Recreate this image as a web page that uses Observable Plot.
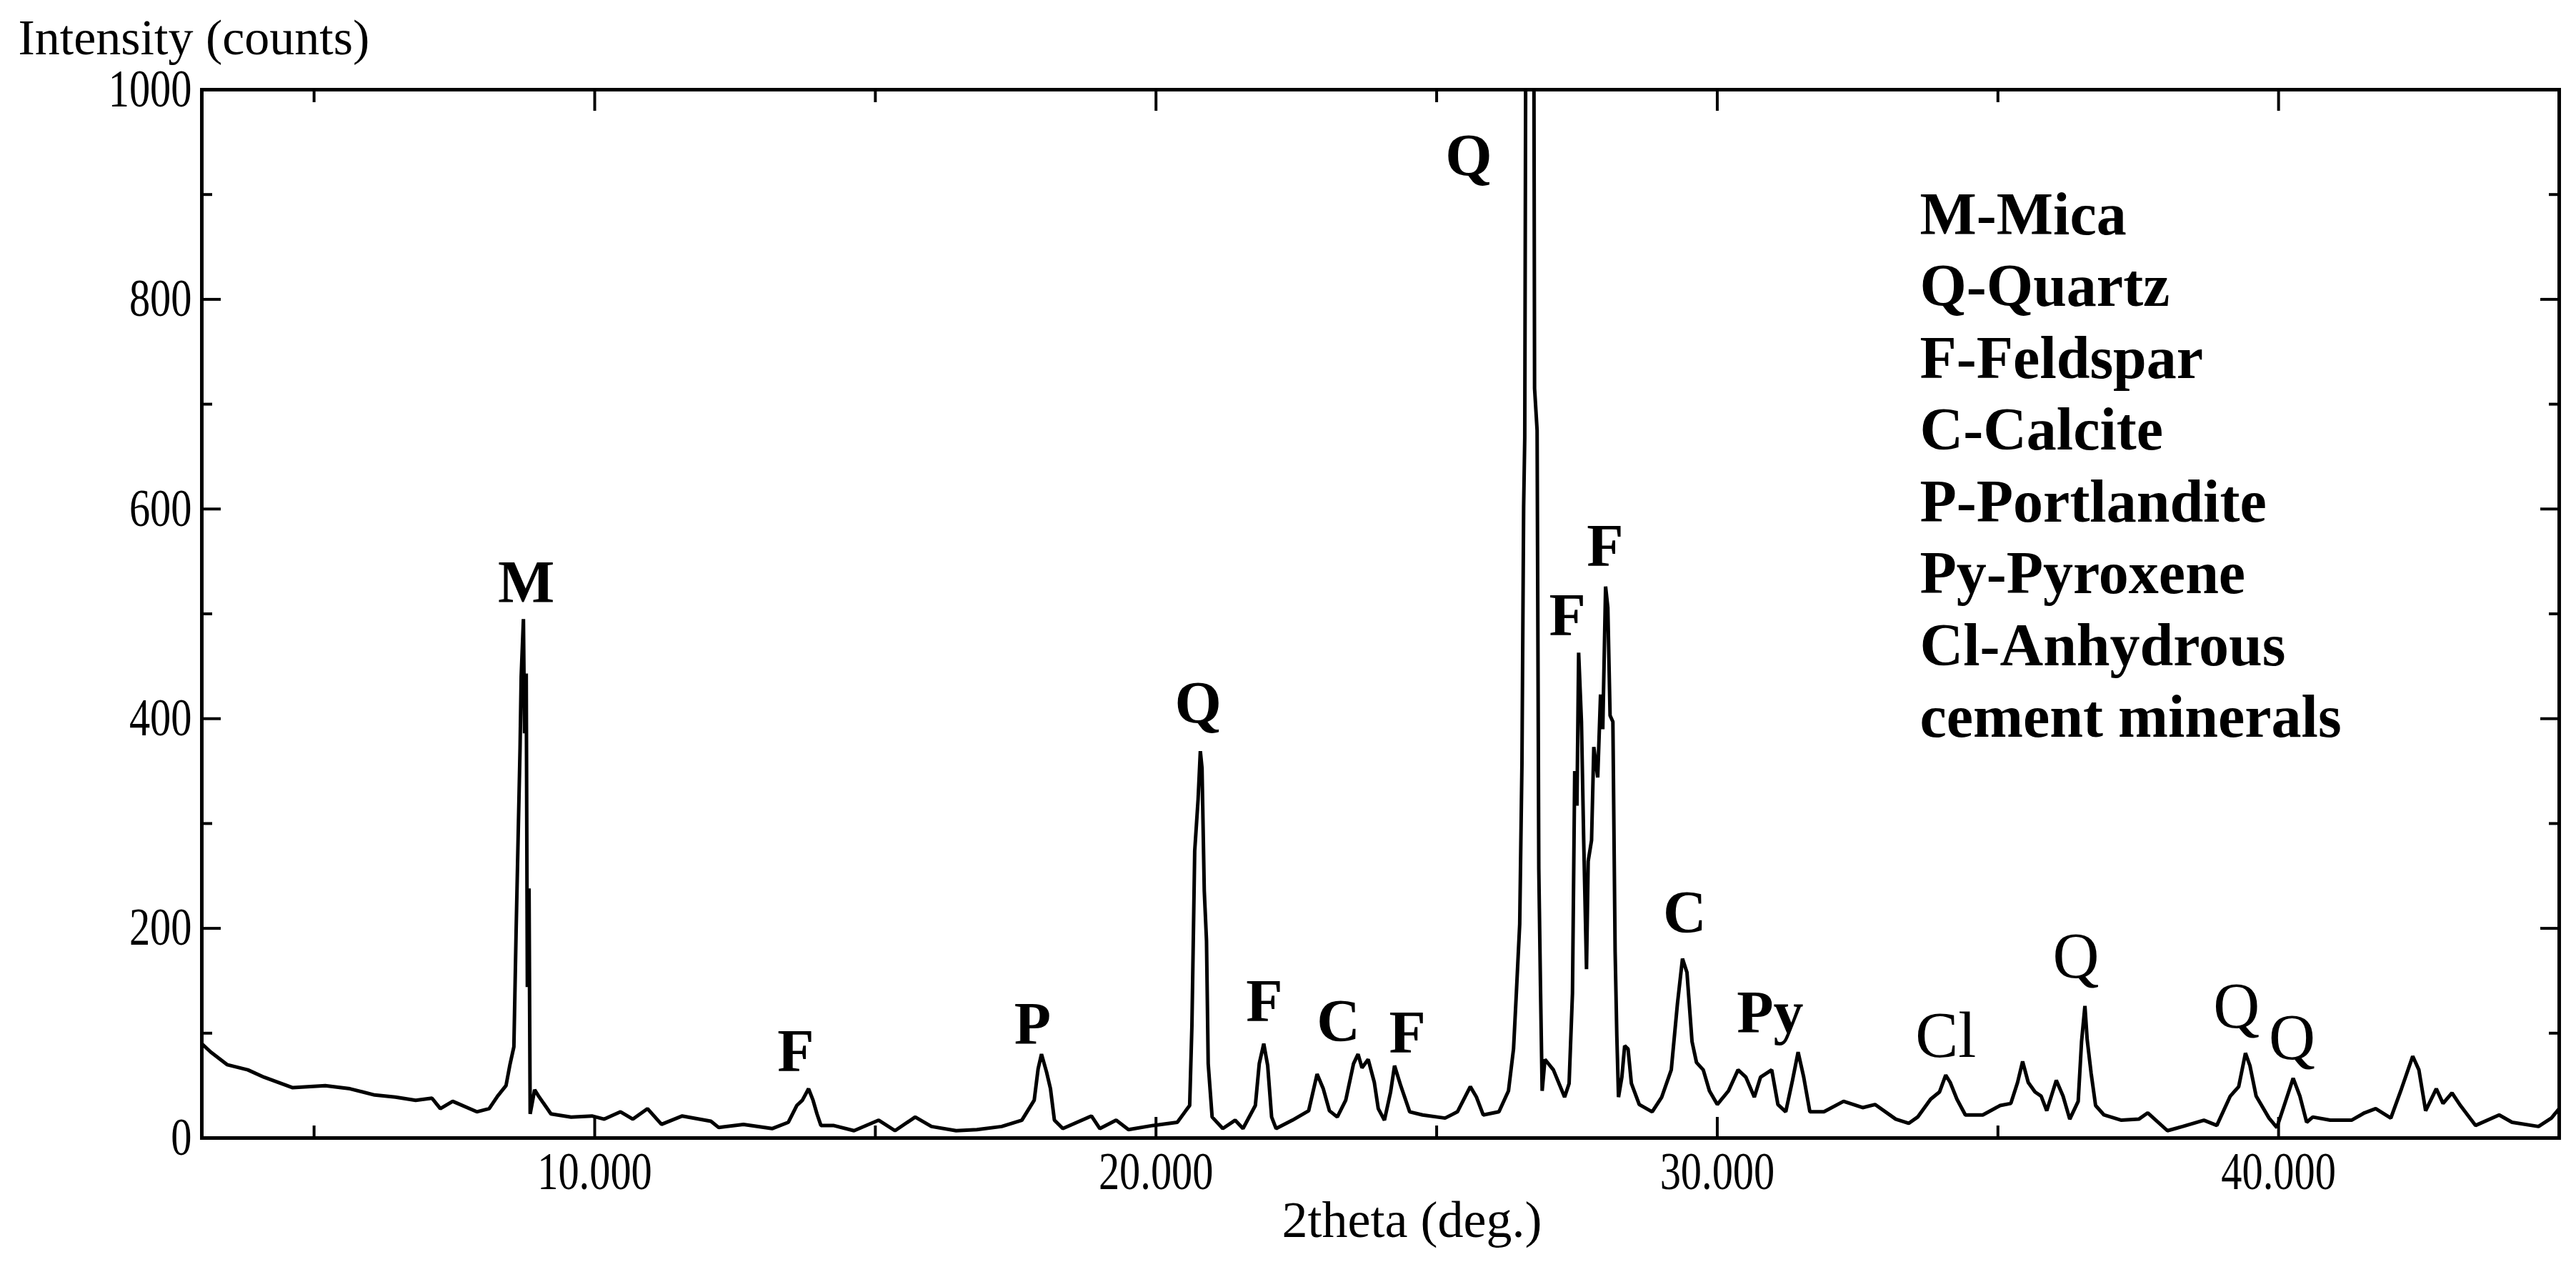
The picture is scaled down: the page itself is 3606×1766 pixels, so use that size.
<!DOCTYPE html>
<html>
<head>
<meta charset="utf-8">
<script src="https://cdn.jsdelivr.net/npm/d3@7"></script>
<script src="https://cdn.jsdelivr.net/npm/@observablehq/plot@0.6"></script>
<style>
  html, body { margin: 0; padding: 0; background: #fff; }
  #chart { position: relative; width: 3606px; height: 1766px; }
</style>
</head>
<body>
<div id="chart"></div>
<script>
// ---- data ----
const twoTheta = [
  3.0, 3.16, 3.45, 3.82, 4.11, 4.62, 5.2, 5.64, 6.08, 6.45, 6.81, 7.1, 7.25, 7.47, 7.9, 8.12, 8.27, 8.42, 8.49, 8.56,
  8.6, 8.67, 8.69, 8.73, 8.75, 8.78, 8.8, 8.83, 8.85, 8.93, 9.0, 9.22, 9.58, 9.95, 10.17, 10.46, 10.68, 10.94, 11.19, 11.56,
  12.07, 12.21, 12.65, 13.16, 13.45, 13.6, 13.7, 13.81, 13.89, 13.96, 14.03, 14.25, 14.62, 15.06, 15.35, 15.71, 16.0, 16.44, 16.81, 17.25,
  17.61, 17.83, 17.9, 17.96, 18.05, 18.12, 18.19, 18.34, 18.85, 19.0, 19.29, 19.51, 19.95, 20.38, 20.53, 20.6, 20.64, 20.69, 20.75, 20.79,
  20.82, 20.86, 20.9, 20.93, 21.0, 21.19, 21.41, 21.55, 21.77, 21.84, 21.92, 21.99, 22.06, 22.14, 22.43, 22.72, 22.87, 22.98, 23.09, 23.23,
  23.38, 23.52, 23.6, 23.67, 23.78, 23.89, 23.96, 24.07, 24.18, 24.25, 24.36, 24.52, 24.75, 25.15, 25.37, 25.6, 25.71, 25.83, 26.11, 26.28,
  26.37, 26.42, 26.48, 26.52, 26.55, 26.57, 26.59, 26.66, 26.73, 26.745, 26.79, 26.82, 26.85, 26.88, 26.93, 27.08, 27.28, 27.36, 27.42, 27.46,
  27.5, 27.53, 27.58, 27.62, 27.67, 27.7, 27.76, 27.8, 27.87, 27.92, 27.96, 28.01, 28.05, 28.09, 28.14, 28.18, 28.21, 28.24, 28.3, 28.35,
  28.41, 28.47, 28.61, 28.84, 29.01, 29.18, 29.29, 29.38, 29.46, 29.55, 29.63, 29.75, 29.86, 30.0, 30.2, 30.37, 30.51, 30.66, 30.77, 30.97,
  31.08, 31.22, 31.34, 31.44, 31.54, 31.65, 31.9, 32.25, 32.59, 32.81, 33.18, 33.41, 33.57, 33.8, 33.96, 34.07, 34.15, 34.27, 34.42, 34.73,
  35.04, 35.23, 35.35, 35.44, 35.54, 35.66, 35.77, 35.87, 36.04, 36.16, 36.28, 36.43, 36.49, 36.55, 36.59, 36.66, 36.74, 36.89, 37.2, 37.51,
  37.67, 38.02, 38.29, 38.67, 38.9, 39.14, 39.29, 39.41, 39.49, 39.6, 39.83, 39.97, 40.1, 40.26, 40.38, 40.5, 40.61, 40.92, 41.3, 41.53,
  41.73, 42.0, 42.19, 42.39, 42.5, 42.62, 42.81, 42.93, 43.09, 43.24, 43.51, 43.93, 44.16, 44.63, 44.86, 45.0
];
const intensity = [
  90, 82, 70, 65, 58, 48, 50, 47, 41, 39, 36, 38, 28, 35, 25, 28, 40, 50, 70, 87,
  198, 372, 440, 495, 386, 443, 144, 238, 23, 46, 40, 23, 20, 21, 18, 25, 18, 28, 13, 21,
  16, 10, 13, 9, 15, 31, 36, 47, 36, 23, 12, 12, 7, 17, 7, 20, 11, 7, 8, 11,
  17, 36, 66, 80, 63, 47, 17, 9, 21, 9, 17, 8, 12, 15, 26, 31, 107, 274, 323, 369,
  353, 236, 188, 71, 20, 9, 17, 9, 31, 71, 90, 69, 20, 9, 17, 26, 61, 47, 26, 20,
  36, 71, 80, 67, 75, 53, 28, 17, 44, 69, 50, 25, 22, 19, 25, 49, 39, 22, 25, 45,
  85, 138, 204, 357, 602, 668, 1100, 2000, 1100, 715, 675, 257, 145, 45, 75, 65, 39, 52, 138, 350,
  317, 463, 397, 284, 161, 264, 284, 373, 344, 423, 390, 526, 506, 403, 397, 178, 98, 39, 58, 88,
  85, 52, 32, 25, 39, 65, 128, 171, 158, 92, 72, 65, 45, 32, 45, 65, 58, 39, 58, 65,
  32, 25, 55, 82, 58, 25, 25, 35, 29, 32, 18, 14, 20, 37, 44, 60, 53, 37, 22, 22,
  31, 33, 53, 73, 53, 44, 40, 26, 55, 40, 18, 35, 92, 126, 94, 62, 31, 22, 17, 18,
  24, 7, 11, 17, 12, 40, 49, 81, 69, 40, 19, 10, 31, 57, 40, 15, 20, 17, 17, 24,
  28, 19, 47, 78, 65, 26, 47, 33, 43, 31, 12, 22, 15, 11, 19, 28
];

const peakLabels = ["M", "F", "P", "Q", "F", "C", "F", "Q", "F", "F", "C", "Py", "Cl", "Q", "Q", "Q"];
const peakTheta  = [8.78, 13.58, 17.80, 20.75, 21.93, 23.25, 24.48, 25.57, 27.33, 28.0, 29.42, 30.94, 34.07, 36.39, 39.25, 40.24];
const peakLabelY = [529, 82, 108, 414, 130, 111, 100, 936, 498, 564, 214, 119, 97, 173, 125, 95];
const peakBold   = [true, true, true, true, true, true, true, true, true, true, true, true, false, false, false, false];

const legendLines = ["M-Mica", "Q-Quartz", "F-Feldspar", "C-Calcite", "P-Portlandite", "Py-Pyroxene", "Cl-Anhydrous", "cement minerals"];

const xMajorTicks = [10, 20, 30, 40];
const xMinorTicks = [5, 15, 25, 35];
const yLabelTicks = [0, 200, 400, 600, 800, 1000];
const yMajorTicks = [200, 400, 600, 800];
const yMinorTicks = [100, 300, 500, 700, 900];

const xTitle = "2theta (deg.)";
const yTitle = "Intensity (counts)";

// ---- build tables ----
const pattern = twoTheta.map((t, i) => ({t, c: intensity[i]}));
const peaks = peakLabels.map((label, i) => ({label, t: peakTheta[i], y: peakLabelY[i], bold: peakBold[i]}));

const serif = "'Liberation Serif', 'Times New Roman', serif";
const tickFont = {fontFamily: serif, fontSize: 73};

const chart = Plot.plot({
  width: 3606,
  height: 1766,
  marginLeft: 282,
  marginRight: 24,
  marginTop: 125,
  marginBottom: 174,
  x: {domain: [3, 45]},
  y: {domain: [0, 1000]},
  style: {fontFamily: serif, fontSize: "73px", color: "black", background: "white", overflow: "visible"},
  marks: [
    Plot.line(pattern, {x: "t", y: "c", stroke: "black", strokeWidth: 5, clip: true, strokeLinejoin: "miter"}),
    // tick labels
    Plot.axisX(xMajorTicks, {anchor: "bottom", tickSize: 0, tickPadding: 20, label: null, tickFormat: d3.format(".3f"), ...tickFont}),
    Plot.axisY(yLabelTicks, {anchor: "left", tickSize: 0, tickPadding: 14, label: null, tickFormat: d => String(d), ...tickFont}),
    // inward ticks
    Plot.axisX(xMajorTicks, {anchor: "bottom", tickSize: -29, label: null, tickFormat: () => "", strokeWidth: 4}),
    Plot.axisX(xMinorTicks, {anchor: "bottom", tickSize: -17, label: null, tickFormat: () => "", strokeWidth: 4}),
    Plot.axisX(xMajorTicks, {anchor: "top", tickSize: -29, label: null, tickFormat: () => "", strokeWidth: 4}),
    Plot.axisX(xMinorTicks, {anchor: "top", tickSize: -17, label: null, tickFormat: () => "", strokeWidth: 4}),
    Plot.axisY(yMajorTicks, {anchor: "left", tickSize: -27, label: null, tickFormat: () => "", strokeWidth: 4}),
    Plot.axisY(yMinorTicks, {anchor: "left", tickSize: -15, label: null, tickFormat: () => "", strokeWidth: 4}),
    Plot.axisY(yMajorTicks, {anchor: "right", tickSize: -27, label: null, tickFormat: () => "", strokeWidth: 4}),
    Plot.axisY(yMinorTicks, {anchor: "right", tickSize: -15, label: null, tickFormat: () => "", strokeWidth: 4}),
    Plot.frame({stroke: "black", strokeWidth: 5}),
    // axis titles
    Plot.text([yTitle], {frameAnchor: "top-left", text: d => d, dx: -257, dy: -72, textAnchor: "start", lineAnchor: "middle", fontFamily: serif, fontSize: 70, fill: "black"}),
    Plot.text([xTitle], {frameAnchor: "bottom", text: d => d, dx: 44, dy: 115, textAnchor: "middle", lineAnchor: "middle", fontFamily: serif, fontSize: 72, fill: "black"}),
    // peak labels
    Plot.text(peaks.filter(d => d.bold), {x: "t", y: "y", text: "label", fontFamily: serif, fontWeight: "bold", fontSize: 84, fill: "black", lineAnchor: "middle"}),
    Plot.text(peaks.filter(d => !d.bold), {x: "t", y: "y", text: "label", fontFamily: serif, fontWeight: "normal", fontSize: 90, fill: "black", lineAnchor: "middle"}),
    // legend
    Plot.text([legendLines.join("\n")], {frameAnchor: "top-left", text: d => d, dx: 2405, dy: 131, textAnchor: "start", lineAnchor: "top", lineHeight: 1.196, fontFamily: serif, fontWeight: "bold", fontSize: 84, fill: "black"})
  ]
});

document.getElementById("chart").appendChild(chart);

// narrow tick digits like the original instrument font
d3.select(chart).selectAll("g[aria-label='x-axis tick label'] text, g[aria-label='y-axis tick label'] text").each(function() {
  const len = this.getComputedTextLength();
  if (len > 0) {
    this.setAttribute("textLength", (len * 0.8).toFixed(1));
    this.setAttribute("lengthAdjust", "spacingAndGlyphs");
  }
});
</script>
</body>
</html>
